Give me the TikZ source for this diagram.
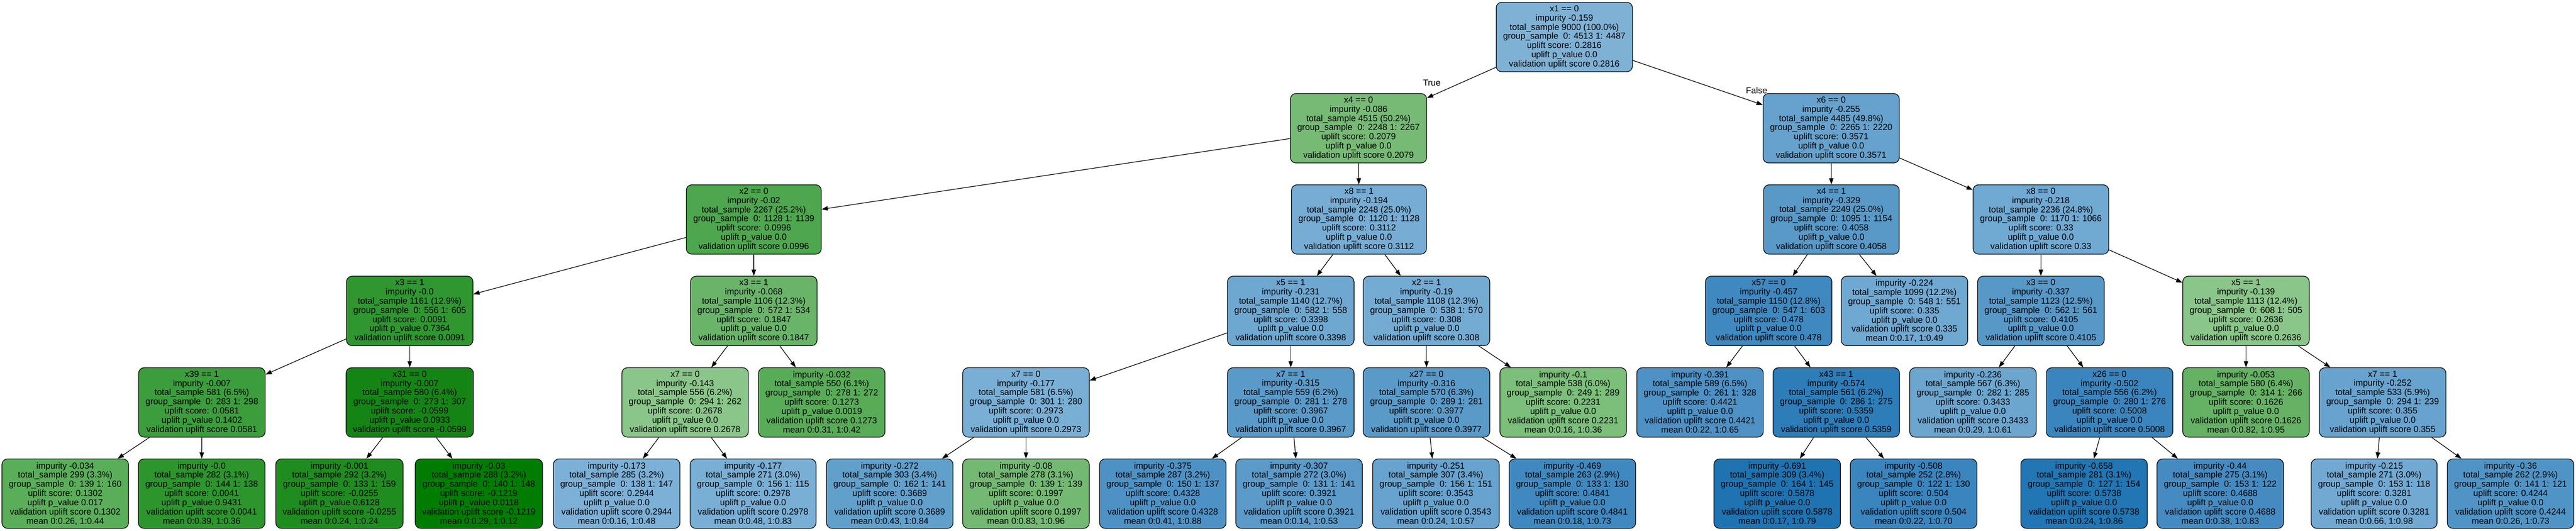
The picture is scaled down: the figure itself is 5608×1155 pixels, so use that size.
\documentclass[tikz,border=0pt]{standalone}
\usepackage{fontspec}
\setmainfont{Liberation Sans}
\usetikzlibrary{arrows.meta}
\begin{document}
\begin{tikzpicture}[x=0.5pt,y=-0.5pt,
  tnode/.style={draw, rounded corners=6pt, line width=0.7pt, align=center, inner xsep=7.5pt, inner ysep=2pt, minimum height=75.5pt, font=\fontsize{9.5}{10}\selectfont},
  arr/.style={draw, line width=0.7pt, -{Triangle[length=6.8pt,width=4.8pt]}},
  elabel/.style={font=\fontsize{9.5}{10}\selectfont}]
\useasboundingbox (0,0) rectangle (5608,1155);
\node[tnode, fill={rgb,255:red,127;green,177;blue,213}] (0) at (3405.5,80.5) {x1 == 0\\impurity -0.159\\total\_sample 9000 (100.0\%)\\group\_sample~ 0: 4513 1: 4487\\uplift score: 0.2816\\uplift p\_value 0.0\\validation uplift score 0.2816};
\node[tnode, fill={rgb,255:red,118;green,186;blue,117}] (1) at (2957.5,279) {x4 == 0\\impurity -0.086\\total\_sample 4515 (50.2\%)\\group\_sample~ 0: 2248 1: 2267\\uplift score: 0.2079\\uplift p\_value 0.0\\validation uplift score 0.2079};
\node[tnode, fill={rgb,255:red,78;green,167;blue,78}] (2) at (1641,477.5) {x2 == 0\\impurity -0.02\\total\_sample 2267 (25.2\%)\\group\_sample~ 0: 1128 1: 1139\\uplift score: 0.0996\\uplift p\_value 0.0\\validation uplift score 0.0996};
\node[tnode, fill={rgb,255:red,47;green,150;blue,48}] (3) at (892,676.5) {x3 == 1\\impurity -0.0\\total\_sample 1161 (12.9\%)\\group\_sample~ 0: 556 1: 605\\uplift score: 0.0091\\uplift p\_value 0.7364\\validation uplift score 0.0091};
\node[tnode, fill={rgb,255:red,60;green,157;blue,60}] (4) at (439.5,875.5) {x39 == 1\\impurity -0.007\\total\_sample 581 (6.5\%)\\group\_sample~ 0: 283 1: 298\\uplift score: 0.0581\\uplift p\_value 0.1402\\validation uplift score 0.0581};
\node[tnode, fill={rgb,255:red,90;green,174;blue,89}] (5) at (142,1074) {impurity -0.034\\total\_sample 299 (3.3\%)\\group\_sample~ 0: 139 1: 160\\uplift score: 0.1302\\uplift p\_value 0.017\\validation uplift score 0.1302\\mean 0:0.26, 1:0.44};
\node[tnode, fill={rgb,255:red,44;green,149;blue,44}] (6) at (439,1074) {impurity -0.0\\total\_sample 282 (3.1\%)\\group\_sample~ 0: 144 1: 138\\uplift score: 0.0041\\uplift p\_value 0.9431\\validation uplift score 0.0041\\mean 0:0.39, 1:0.36};
\node[tnode, fill={rgb,255:red,20;green,133;blue,20}] (7) at (892,875.5) {x31 == 0\\impurity -0.007\\total\_sample 580 (6.4\%)\\group\_sample~ 0: 273 1: 307\\uplift score: -0.0599\\uplift p\_value 0.0933\\validation uplift score -0.0599};
\node[tnode, fill={rgb,255:red,31;green,140;blue,31}] (8) at (739,1074) {impurity -0.001\\total\_sample 292 (3.2\%)\\group\_sample~ 0: 133 1: 159\\uplift score: -0.0255\\uplift p\_value 0.6128\\validation uplift score -0.0255\\mean 0:0.24, 1:0.24};
\node[tnode, fill={rgb,255:red,0;green,125;blue,0}] (9) at (1042.5,1074) {impurity -0.03\\total\_sample 288 (3.2\%)\\group\_sample~ 0: 140 1: 148\\uplift score: -0.1219\\uplift p\_value 0.0118\\validation uplift score -0.1219\\mean 0:0.29, 1:0.12};
\node[tnode, fill={rgb,255:red,106;green,180;blue,106}] (10) at (1641,676.5) {x3 == 1\\impurity -0.068\\total\_sample 1106 (12.3\%)\\group\_sample~ 0: 572 1: 534\\uplift score: 0.1847\\uplift p\_value 0.0\\validation uplift score 0.1847};
\node[tnode, fill={rgb,255:red,138;green,197;blue,137}] (11) at (1491.5,875.5) {x7 == 0\\impurity -0.143\\total\_sample 556 (6.2\%)\\group\_sample~ 0: 294 1: 262\\uplift score: 0.2678\\uplift p\_value 0.0\\validation uplift score 0.2678};
\node[tnode, fill={rgb,255:red,124;green,176;blue,214}] (12) at (1342.5,1074) {impurity -0.173\\total\_sample 285 (3.2\%)\\group\_sample~ 0: 138 1: 147\\uplift score: 0.2944\\uplift p\_value 0.0\\validation uplift score 0.2944\\mean 0:0.16, 1:0.48};
\node[tnode, fill={rgb,255:red,122;green,175;blue,213}] (13) at (1639.5,1074) {impurity -0.177\\total\_sample 271 (3.0\%)\\group\_sample~ 0: 156 1: 115\\uplift score: 0.2978\\uplift p\_value 0.0\\validation uplift score 0.2978\\mean 0:0.48, 1:0.83};
\node[tnode, fill={rgb,255:red,88;green,172;blue,87}] (14) at (1789,875.5) {impurity -0.032\\total\_sample 550 (6.1\%)\\group\_sample~ 0: 278 1: 272\\uplift score: 0.1273\\uplift p\_value 0.0019\\validation uplift score 0.1273\\mean 0:0.31, 1:0.42};
\node[tnode, fill={rgb,255:red,119;green,173;blue,212}] (15) at (2958.5,477.5) {x8 == 1\\impurity -0.194\\total\_sample 2248 (25.0\%)\\group\_sample~ 0: 1120 1: 1128\\uplift score: 0.3112\\uplift p\_value 0.0\\validation uplift score 0.3112};
\node[tnode, fill={rgb,255:red,110;green,168;blue,209}] (16) at (2810,676.5) {x5 == 1\\impurity -0.231\\total\_sample 1140 (12.7\%)\\group\_sample~ 0: 582 1: 558\\uplift score: 0.3398\\uplift p\_value 0.0\\validation uplift score 0.3398};
\node[tnode, fill={rgb,255:red,122;green,175;blue,213}] (17) at (2233.5,875.5) {x7 == 0\\impurity -0.177\\total\_sample 581 (6.5\%)\\group\_sample~ 0: 301 1: 280\\uplift score: 0.2973\\uplift p\_value 0.0\\validation uplift score 0.2973};
\node[tnode, fill={rgb,255:red,98;green,160;blue,204}] (18) at (1937,1074) {impurity -0.272\\total\_sample 303 (3.4\%)\\group\_sample~ 0: 162 1: 141\\uplift score: 0.3689\\uplift p\_value 0.0\\validation uplift score 0.3689\\mean 0:0.43, 1:0.84};
\node[tnode, fill={rgb,255:red,116;green,185;blue,115}] (19) at (2233.5,1074) {impurity -0.08\\total\_sample 278 (3.1\%)\\group\_sample~ 0: 139 1: 139\\uplift score: 0.1997\\uplift p\_value 0.0\\validation uplift score 0.1997\\mean 0:0.83, 1:0.96};
\node[tnode, fill={rgb,255:red,90;green,154;blue,201}] (20) at (2810,875.5) {x7 == 1\\impurity -0.315\\total\_sample 559 (6.2\%)\\group\_sample~ 0: 281 1: 278\\uplift score: 0.3967\\uplift p\_value 0.0\\validation uplift score 0.3967};
\node[tnode, fill={rgb,255:red,78;green,146;blue,197}] (21) at (2531.5,1074) {impurity -0.375\\total\_sample 287 (3.2\%)\\group\_sample~ 0: 150 1: 137\\uplift score: 0.4328\\uplift p\_value 0.0\\validation uplift score 0.4328\\mean 0:0.41, 1:0.88};
\node[tnode, fill={rgb,255:red,92;green,155;blue,201}] (22) at (2828,1074) {impurity -0.307\\total\_sample 272 (3.0\%)\\group\_sample~ 0: 131 1: 141\\uplift score: 0.3921\\uplift p\_value 0.0\\validation uplift score 0.3921\\mean 0:0.14, 1:0.53};
\node[tnode, fill={rgb,255:red,116;green,171;blue,211}] (23) at (3105.5,676.5) {x2 == 1\\impurity -0.19\\total\_sample 1108 (12.3\%)\\group\_sample~ 0: 538 1: 570\\uplift score: 0.308\\uplift p\_value 0.0\\validation uplift score 0.308};
\node[tnode, fill={rgb,255:red,90;green,154;blue,201}] (24) at (3105.5,875.5) {x27 == 0\\impurity -0.316\\total\_sample 570 (6.3\%)\\group\_sample~ 0: 289 1: 281\\uplift score: 0.3977\\uplift p\_value 0.0\\validation uplift score 0.3977};
\node[tnode, fill={rgb,255:red,103;green,163;blue,206}] (25) at (3126,1074) {impurity -0.251\\total\_sample 307 (3.4\%)\\group\_sample~ 0: 156 1: 151\\uplift score: 0.3543\\uplift p\_value 0.0\\validation uplift score 0.3543\\mean 0:0.24, 1:0.57};
\node[tnode, fill={rgb,255:red,64;green,137;blue,192}] (26) at (3423,1074) {impurity -0.469\\total\_sample 263 (2.9\%)\\group\_sample~ 0: 133 1: 130\\uplift score: 0.4841\\uplift p\_value 0.0\\validation uplift score 0.4841\\mean 0:0.18, 1:0.73};
\node[tnode, fill={rgb,255:red,123;green,191;blue,122}] (27) at (3403,875.5) {impurity -0.1\\total\_sample 538 (6.0\%)\\group\_sample~ 0: 249 1: 289\\uplift score: 0.2231\\uplift p\_value 0.0\\validation uplift score 0.2231\\mean 0:0.16, 1:0.36};
\node[tnode, fill={rgb,255:red,102;green,162;blue,205}] (28) at (3986.5,279) {x6 == 0\\impurity -0.255\\total\_sample 4485 (49.8\%)\\group\_sample~ 0: 2265 1: 2220\\uplift score: 0.3571\\uplift p\_value 0.0\\validation uplift score 0.3571};
\node[tnode, fill={rgb,255:red,88;green,153;blue,200}] (29) at (3987,477.5) {x4 == 1\\impurity -0.329\\total\_sample 2249 (25.0\%)\\group\_sample~ 0: 1095 1: 1154\\uplift score: 0.4058\\uplift p\_value 0.0\\validation uplift score 0.4058};
\node[tnode, fill={rgb,255:red,63;green,136;blue,192}] (30) at (3850.5,676.5) {x57 == 0\\impurity -0.457\\total\_sample 1150 (12.8\%)\\group\_sample~ 0: 547 1: 603\\uplift score: 0.478\\uplift p\_value 0.0\\validation uplift score 0.478};
\node[tnode, fill={rgb,255:red,77;green,145;blue,197}] (31) at (3701,875.5) {impurity -0.391\\total\_sample 589 (6.5\%)\\group\_sample~ 0: 261 1: 328\\uplift score: 0.4421\\uplift p\_value 0.0\\validation uplift score 0.4421\\mean 0:0.22, 1:0.65};
\node[tnode, fill={rgb,255:red,45;green,125;blue,185}] (32) at (3997.5,875.5) {x43 == 1\\impurity -0.574\\total\_sample 561 (6.2\%)\\group\_sample~ 0: 286 1: 275\\uplift score: 0.5359\\uplift p\_value 0.0\\validation uplift score 0.5359};
\node[tnode, fill={rgb,255:red,31;green,115;blue,177}] (33) at (3869,1074) {impurity -0.691\\total\_sample 309 (3.4\%)\\group\_sample~ 0: 164 1: 145\\uplift score: 0.5878\\uplift p\_value 0.0\\validation uplift score 0.5878\\mean 0:0.17, 1:0.79};
\node[tnode, fill={rgb,255:red,58;green,133;blue,190}] (34) at (4166,1074) {impurity -0.508\\total\_sample 252 (2.8\%)\\group\_sample~ 0: 122 1: 130\\uplift score: 0.504\\uplift p\_value 0.0\\validation uplift score 0.504\\mean 0:0.22, 1:0.70};
\node[tnode, fill={rgb,255:red,111;green,168;blue,209}] (35) at (4146,676.5) {impurity -0.224\\total\_sample 1099 (12.2\%)\\group\_sample~ 0: 548 1: 551\\uplift score: 0.335\\uplift p\_value 0.0\\validation uplift score 0.335\\mean 0:0.17, 1:0.49};
\node[tnode, fill={rgb,255:red,112;green,169;blue,210}] (36) at (4443,477.5) {x8 == 0\\impurity -0.218\\total\_sample 2236 (24.8\%)\\group\_sample~ 0: 1170 1: 1066\\uplift score: 0.33\\uplift p\_value 0.0\\validation uplift score 0.33};
\node[tnode, fill={rgb,255:red,87;green,152;blue,199}] (37) at (4443,676.5) {x3 == 0\\impurity -0.337\\total\_sample 1123 (12.5\%)\\group\_sample~ 0: 562 1: 561\\uplift score: 0.4105\\uplift p\_value 0.0\\validation uplift score 0.4105};
\node[tnode, fill={rgb,255:red,108;green,166;blue,207}] (38) at (4295,875.5) {impurity -0.236\\total\_sample 567 (6.3\%)\\group\_sample~ 0: 282 1: 285\\uplift score: 0.3433\\uplift p\_value 0.0\\validation uplift score 0.3433\\mean 0:0.29, 1:0.61};
\node[tnode, fill={rgb,255:red,58;green,133;blue,190}] (39) at (4592.5,875.5) {x26 == 0\\impurity -0.502\\total\_sample 556 (6.2\%)\\group\_sample~ 0: 280 1: 276\\uplift score: 0.5008\\uplift p\_value 0.0\\validation uplift score 0.5008};
\node[tnode, fill={rgb,255:red,33;green,118;blue,179}] (40) at (4537,1074) {impurity -0.658\\total\_sample 281 (3.1\%)\\group\_sample~ 0: 127 1: 154\\uplift score: 0.5738\\uplift p\_value 0.0\\validation uplift score 0.5738\\mean 0:0.24, 1:0.86};
\node[tnode, fill={rgb,255:red,69;green,139;blue,193}] (41) at (4833.5,1074) {impurity -0.44\\total\_sample 275 (3.1\%)\\group\_sample~ 0: 153 1: 122\\uplift score: 0.4688\\uplift p\_value 0.0\\validation uplift score 0.4688\\mean 0:0.38, 1:0.83};
\node[tnode, fill={rgb,255:red,138;green,197;blue,137}] (42) at (4889.5,676.5) {x5 == 1\\impurity -0.139\\total\_sample 1113 (12.4\%)\\group\_sample~ 0: 608 1: 505\\uplift score: 0.2636\\uplift p\_value 0.0\\validation uplift score 0.2636};
\node[tnode, fill={rgb,255:red,102;green,178;blue,101}] (43) at (4889.5,875.5) {impurity -0.053\\total\_sample 580 (6.4\%)\\group\_sample~ 0: 314 1: 266\\uplift score: 0.1626\\uplift p\_value 0.0\\validation uplift score 0.1626\\mean 0:0.82, 1:0.95};
\node[tnode, fill={rgb,255:red,103;green,163;blue,206}] (44) at (5187,875.5) {x7 == 1\\impurity -0.252\\total\_sample 533 (5.9\%)\\group\_sample~ 0: 294 1: 239\\uplift score: 0.355\\uplift p\_value 0.0\\validation uplift score 0.355};
\node[tnode, fill={rgb,255:red,113;green,169;blue,210}] (45) at (5168.5,1074) {impurity -0.215\\total\_sample 271 (3.0\%)\\group\_sample~ 0: 153 1: 118\\uplift score: 0.3281\\uplift p\_value 0.0\\validation uplift score 0.3281\\mean 0:0.66, 1:0.98};
\node[tnode, fill={rgb,255:red,80;green,148;blue,198}] (46) at (5465.5,1074) {impurity -0.36\\total\_sample 262 (2.9\%)\\group\_sample~ 0: 141 1: 121\\uplift score: 0.4244\\uplift p\_value 0.0\\validation uplift score 0.4244\\mean 0:0.26, 1:0.73};
\node[elabel] (true) at (3117,180) {True};
\node[elabel] (false) at (3824,197) {False};
\path[arr] (0) -- (1);
\path[arr] (0) -- (28);
\path[arr] (1) -- (2);
\path[arr] (1) -- (15);
\path[arr] (2) -- (3);
\path[arr] (2) -- (10);
\path[arr] (3) -- (4);
\path[arr] (3) -- (7);
\path[arr] (4) -- (5);
\path[arr] (4) -- (6);
\path[arr] (7) -- (8);
\path[arr] (7) -- (9);
\path[arr] (10) -- (11);
\path[arr] (10) -- (14);
\path[arr] (11) -- (12);
\path[arr] (11) -- (13);
\path[arr] (15) -- (16);
\path[arr] (15) -- (23);
\path[arr] (16) -- (17);
\path[arr] (16) -- (20);
\path[arr] (17) -- (18);
\path[arr] (17) -- (19);
\path[arr] (20) -- (21);
\path[arr] (20) -- (22);
\path[arr] (23) -- (24);
\path[arr] (23) -- (27);
\path[arr] (24) -- (25);
\path[arr] (24) -- (26);
\path[arr] (28) -- (29);
\path[arr] (28) -- (36);
\path[arr] (29) -- (30);
\path[arr] (29) -- (35);
\path[arr] (30) -- (31);
\path[arr] (30) -- (32);
\path[arr] (32) -- (33);
\path[arr] (32) -- (34);
\path[arr] (36) -- (37);
\path[arr] (36) -- (42);
\path[arr] (37) -- (38);
\path[arr] (37) -- (39);
\path[arr] (39) -- (40);
\path[arr] (39) -- (41);
\path[arr] (42) -- (43);
\path[arr] (42) -- (44);
\path[arr] (44) -- (45);
\path[arr] (44) -- (46);
\end{tikzpicture}
\end{document}
